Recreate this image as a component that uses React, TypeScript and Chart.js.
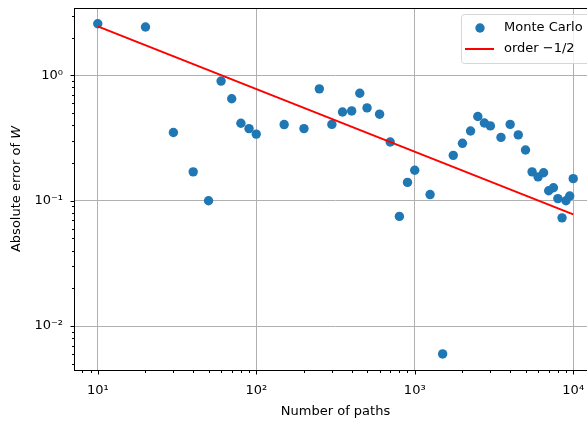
import React, { useEffect, useRef } from "react";
import { Chart, registerables } from "chart.js";

Chart.register(...registerables);

const paths = [
  10, 20, 30, 40, 50, 60, 70, 80, 90, 100,
  150, 200, 250, 300, 350, 400, 450, 500,
  600, 700, 800, 900, 1000,
  1250, 1500, 1750, 2000, 2250, 2500, 2750, 3000,
  3500, 4000, 4500, 5000,
  5500, 6000, 6500, 7000, 7500, 8000, 8500, 9000, 9500, 10000,
];
const errors = [
  2.58, 2.43, 0.35, 0.17, 0.1, 0.9, 0.65, 0.415, 0.376, 0.34,
  0.405, 0.376, 0.78, 0.406, 0.51, 0.52, 0.72, 0.55,
  0.49, 0.294, 0.075, 0.14, 0.175,
  0.112, 0.006, 0.23, 0.287, 0.36, 0.47, 0.417, 0.395,
  0.32, 0.406, 0.335, 0.254,
  0.17, 0.155, 0.167, 0.12, 0.127, 0.104, 0.073, 0.1, 0.109, 0.15,
];
const refX = [10, 10000];
const refY = [2.46, 0.0778];
const xTickValues = [10, 100, 1000, 10000];
const yTickValues = [0.01, 0.1, 1];
const seriesLabels = ["Monte Carlo", "order \u22121/2"];
const xTitle = "Number of paths";
const yTitleMain = "Absolute error of ";
const yTitleItalic = "W";

const FONT = "'DejaVu Sans', sans-serif";
const FS = 13;
const BLUE = "#1f77b4";
const RED = "#ff0000";

const SUP: Record<string, string> = {
  "0": "\u2070", "1": "\u00b9", "2": "\u00b2", "3": "\u00b3", "4": "\u2074",
  "5": "\u2075", "6": "\u2076", "7": "\u2077", "8": "\u2078", "9": "\u2079", "-": "\u207b",
};
function pow10Label(v: number): string {
  const e = Math.round(Math.log10(v));
  return "10" + String(e).split("").map((c) => SUP[c]).join("");
}

const decor = {
  id: "decor",
  afterDatasetsDraw(chart: any) {
    const { ctx, chartArea: a, scales } = chart;
    const xs = scales.x;
    const ys = scales.y;
    ctx.save();
    // spines
    ctx.strokeStyle = "#000";
    ctx.lineWidth = 1;
    ctx.strokeRect(Math.round(a.left) + 0.5, Math.round(a.top) + 0.5, Math.round(a.right - a.left), Math.round(a.bottom - a.top));
    // tick marks
    ctx.beginPath();
    for (let e = -4; e <= 6; e++) {
      for (let m = 1; m <= 9; m++) {
        const v = m * Math.pow(10, e);
        const len = m === 1 ? 4 : 2.5;
        if (v >= xs.min && v <= xs.max) {
          const px = Math.round(xs.getPixelForValue(v)) + 0.5;
          ctx.moveTo(px, Math.round(a.bottom) + 0.5);
          ctx.lineTo(px, Math.round(a.bottom) + 0.5 + len);
        }
        if (v >= ys.min && v <= ys.max) {
          const py = Math.round(ys.getPixelForValue(v)) + 0.5;
          ctx.moveTo(Math.round(a.left) + 0.5, py);
          ctx.lineTo(Math.round(a.left) + 0.5 - len, py);
        }
      }
    }
    ctx.stroke();

    // y title
    ctx.save();
    ctx.translate(17, (a.top + a.bottom) / 2);
    ctx.rotate(-Math.PI / 2);
    ctx.fillStyle = "#000";
    ctx.textBaseline = "middle";
    ctx.font = `${FS}px ${FONT}`;
    const w1 = ctx.measureText(yTitleMain).width;
    ctx.font = `italic ${FS}px ${FONT}`;
    const w2 = ctx.measureText(yTitleItalic).width;
    const start = -(w1 + w2) / 2;
    ctx.font = `${FS}px ${FONT}`;
    ctx.textAlign = "left";
    ctx.fillText(yTitleMain, start, 0);
    ctx.font = `italic ${FS}px ${FONT}`;
    ctx.fillText(yTitleItalic, start + w1, 0);
    ctx.restore();

    // legend
    const lx = a.right - 6.5;
    const bx = 461.5, by = 14.5, bw = lx - bx, bh = 49;
    const r = 3;
    ctx.beginPath();
    ctx.moveTo(bx + r, by);
    ctx.lineTo(bx + bw - r, by);
    ctx.quadraticCurveTo(bx + bw, by, bx + bw, by + r);
    ctx.lineTo(bx + bw, by + bh - r);
    ctx.quadraticCurveTo(bx + bw, by + bh, bx + bw - r, by + bh);
    ctx.lineTo(bx + r, by + bh);
    ctx.quadraticCurveTo(bx, by + bh, bx, by + bh - r);
    ctx.lineTo(bx, by + r);
    ctx.quadraticCurveTo(bx, by, bx + r, by);
    ctx.closePath();
    ctx.fillStyle = "rgba(255,255,255,0.8)";
    ctx.fill();
    ctx.strokeStyle = "#d6d6d6";
    ctx.lineWidth = 1;
    ctx.stroke();

    ctx.fillStyle = BLUE;
    ctx.beginPath();
    ctx.arc(480, 28, 4.7, 0, Math.PI * 2);
    ctx.fill();

    ctx.strokeStyle = RED;
    ctx.lineWidth = 2;
    ctx.beginPath();
    ctx.moveTo(465, 49);
    ctx.lineTo(494, 49);
    ctx.stroke();

    ctx.fillStyle = "#000";
    ctx.font = `${FS}px ${FONT}`;
    ctx.textAlign = "left";
    ctx.textBaseline = "middle";
    ctx.fillText(seriesLabels[0], 504, 28);
    ctx.fillText(seriesLabels[1], 504, 49);
    ctx.restore();
  },
};

export default function App() {
  const ref = useRef<HTMLCanvasElement | null>(null);
  useEffect(() => {
    if (!ref.current) return;
    const chart = new Chart(ref.current, {
      type: "scatter",
      data: {
        datasets: [
          {
            type: "scatter",
            label: seriesLabels[0],
            data: paths.map((x, i) => ({ x, y: errors[i] })),
            backgroundColor: BLUE,
            borderColor: BLUE,
            borderWidth: 0,
            pointRadius: 4.7,
            pointHoverRadius: 4.7,
            order: 2,
          } as any,
          {
            type: "line",
            label: seriesLabels[1],
            data: refX.map((x, i) => ({ x, y: refY[i] })),
            borderColor: RED,
            backgroundColor: RED,
            borderWidth: 2,
            pointRadius: 0,
            fill: false,
            order: 1,
          } as any,
        ],
      },
      options: {
        responsive: false,
        maintainAspectRatio: false,
        animation: false,
        devicePixelRatio: 1,
        events: [],
        layout: { autoPadding: false, padding: { top: 8, right: 13, left: 0, bottom: 0 } },
        plugins: { legend: { display: false }, tooltip: { enabled: false } },
        scales: {
          x: {
            type: "logarithmic",
            position: "bottom",
            min: Math.pow(10, 0.85),
            max: Math.pow(10, 4.15),
            bounds: "data",
            afterBuildTicks: (s: any) => {
              s.ticks = xTickValues.map((v) => ({ value: v, major: true }));
            },
            afterFit: (s: any) => {
              s.height = 53;
              s.paddingLeft = 0;
              s.paddingRight = 0;
            },
            grid: { color: "#b0b0b0", lineWidth: 1, drawTicks: false },
            border: { display: false },
            ticks: {
              autoSkip: false,
              maxRotation: 0,
              minRotation: 0,
              padding: 13,
              color: "#000",
              font: { family: FONT, size: FS },
              callback: (v: any) => pow10Label(Number(v)),
            },
            title: {
              display: true,
              text: xTitle,
              color: "#000",
              font: { family: FONT, size: FS },
              padding: { top: 4, bottom: 4 },
            },
          },
          y: {
            type: "logarithmic",
            position: "left",
            min: Math.pow(10, -2.35),
            max: Math.pow(10, 0.537),
            bounds: "data",
            afterBuildTicks: (s: any) => {
              s.ticks = yTickValues.map((v) => ({ value: v, major: true }));
            },
            afterFit: (s: any) => {
              s.width = 74;
              s.paddingTop = 0;
              s.paddingBottom = 0;
            },
            grid: { color: "#b0b0b0", lineWidth: 1, drawTicks: false },
            border: { display: false },
            ticks: {
              autoSkip: false,
              padding: 11,
              color: "#000",
              font: { family: FONT, size: FS },
              callback: (v: any) => pow10Label(Number(v)),
            },
          },
        },
      },
      plugins: [decor],
    });
    return () => chart.destroy();
  }, []);
  return (
    <div style={{ position: "fixed", left: 0, top: 0, width: 587, height: 423, overflow: "hidden", background: "#fff" }}>
      <canvas ref={ref} width={610} height={423} style={{ display: "block", width: 610, height: 423 }} />
    </div>
  );
}
